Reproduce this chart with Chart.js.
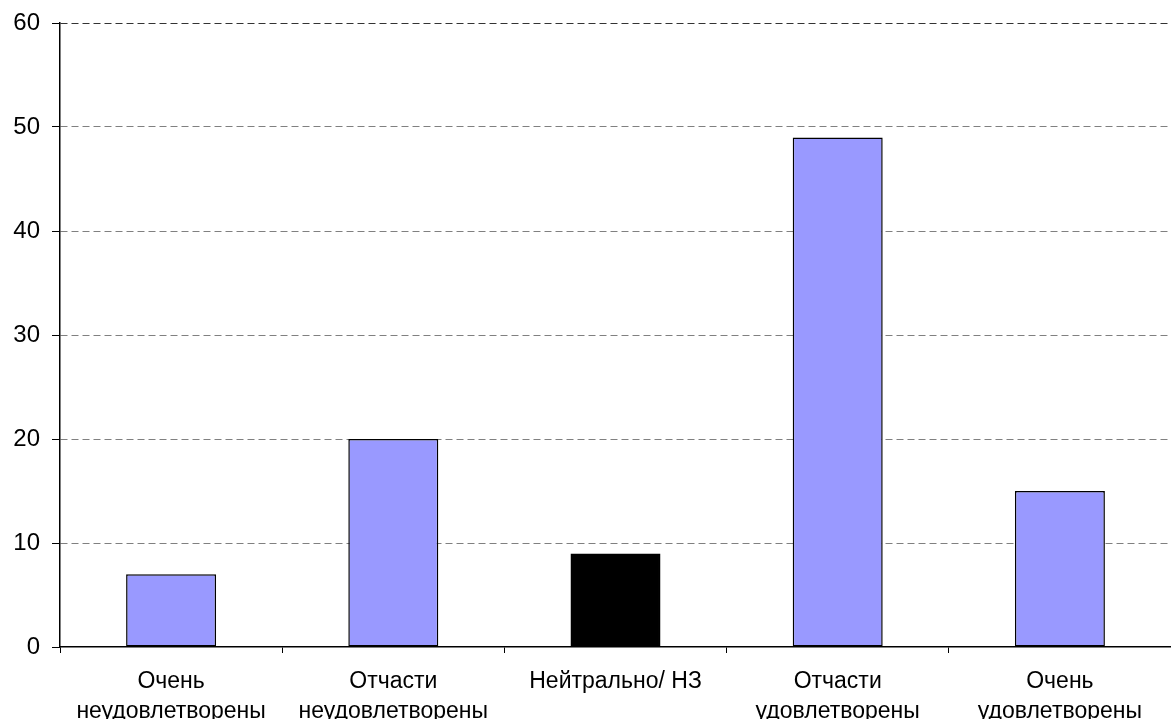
<!DOCTYPE html>
<html>
<head>
<meta charset="utf-8">
<script src="https://cdn.jsdelivr.net/npm/chart.js@4/dist/chart.umd.min.js"></script>
<style>
    body { margin: 0; background: #fff; }
    canvas { display: block; }
</style>
</head>
<body>
<canvas id="satisfactionChart" width="1171" height="719"></canvas>
<script>
var categories = [
    ["Очень", "неудовлетворены"],
    ["Отчасти", "неудовлетворены"],
    ["Нейтрально/ НЗ"],
    ["Отчасти", "удовлетворены"],
    ["Очень", "удовлетворены"]
];
var values = [7, 20, 9, 49, 15];
var barColors = ["#9999FF", "#9999FF", "#000000", "#9999FF", "#9999FF"];
var yTicks = [0, 10, 20, 30, 40, 50, 60];

Chart.defaults.font.family = "'Liberation Sans', Arial, sans-serif";
Chart.defaults.color = "black";

new Chart("satisfactionChart", {
    type: "bar",
    data: {
        labels: categories,
        datasets: [{
            data: values,
            backgroundColor: barColors,
            borderColor: "black",
            borderWidth: 1.5,
            borderSkipped: false,
            barPercentage: 0.405,
            categoryPercentage: 1
        }]
    },
    options: {
        responsive: false,
        animation: false,
        layout: {
            padding: { top: 23, right: 0, left: 0, bottom: 0 }
        },
        plugins: {
            legend: { display: false },
            tooltip: { enabled: false }
        },
        scales: {
            x: {
                grid: {
                    display: true,
                    drawOnChartArea: false,
                    tickLength: 6,
                    tickColor: "black",
                    offset: true
                },
                border: { color: "black", width: 1.5 },
                ticks: {
                    maxRotation: 0,
                    autoSkip: false,
                    padding: 14,
                    font: { size: 23, lineHeight: 1.28 }
                },
                afterFit: function (scale) {
                    scale.height = 72;
                    scale.paddingLeft = 0;
                    scale.paddingRight = 0;
                }
            },
            y: {
                min: 0,
                max: 60,
                afterBuildTicks: function (scale) {
                    scale.ticks = yTicks.map(function (v) { return { value: v }; });
                },
                grid: {
                    color: function (ctx) {
                        if (!ctx.tick) return "#808080";
                        if (ctx.tick.value === 0) return "rgba(0,0,0,0)";
                        return ctx.tick.value === 60 ? "#333333" : "#808080";
                    },
                    tickColor: "black",
                    tickLength: 8
                },
                border: { color: "black", width: 1.5, dash: [7, 4] },
                ticks: {
                    padding: 12,
                    font: { size: 24 }
                },
                afterFit: function (scale) {
                    scale.width = 60;
                    scale.paddingTop = 0;
                    scale.paddingBottom = 0;
                }
            }
        }
    }
});
</script>
</body>
</html>
